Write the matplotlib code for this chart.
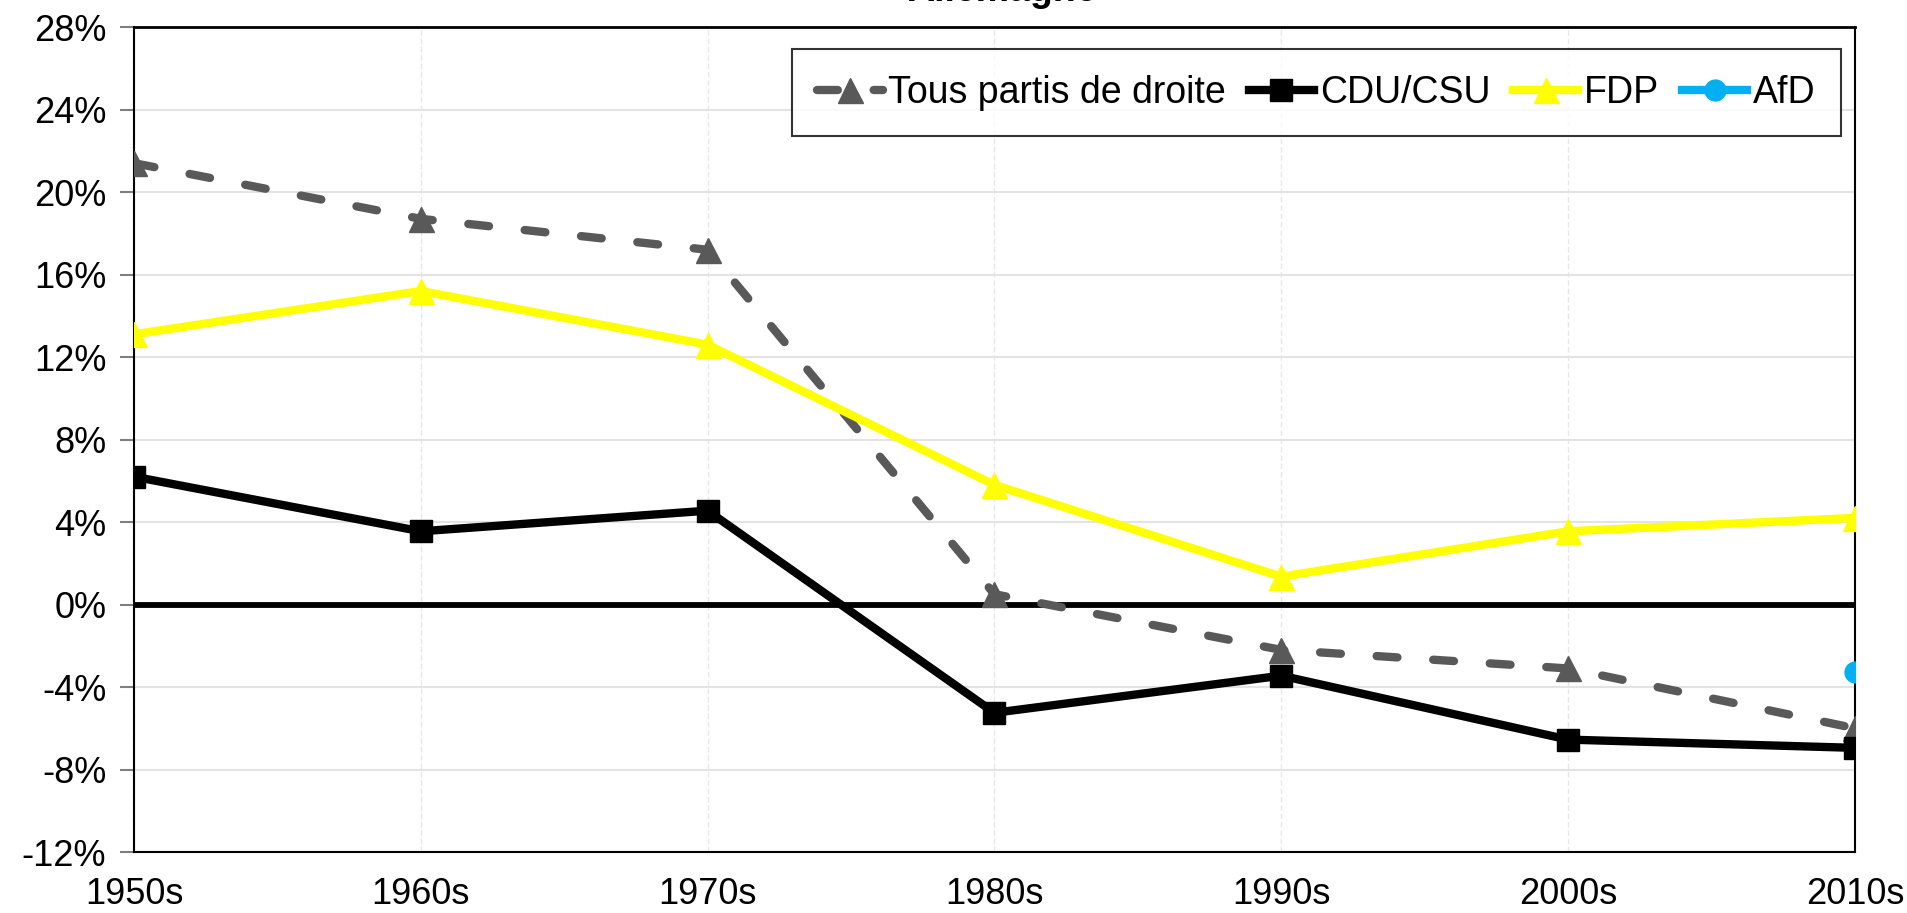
import matplotlib
matplotlib.use("Agg")
import matplotlib.pyplot as plt
from matplotlib.ticker import MultipleLocator, FuncFormatter

plt.rcParams['font.family'] = ['Liberation Sans', 'DejaVu Sans']

decades = ["1950s", "1960s", "1970s", "1980s", "1990s", "2000s", "2010s"]
tous_droite = [21.4, 18.7, 17.2, 0.5, -2.2, -3.1, -6.0]
cdu_csu = [6.2, 3.55, 4.55, -5.25, -3.45, -6.55, -6.95]
fdp = [13.1, 15.2, 12.6, 5.8, 1.35, 3.55, 4.2]
afd_x = ["2010s"]
afd = [-3.25]

fig = plt.figure(figsize=(19.08, 9.13), dpi=100)
ax = fig.add_axes([0.0702, 0.0668, 0.9722 - 0.0702, 0.9704 - 0.0668])

x = list(range(len(decades)))
afd_pos = [decades.index(d) for d in afd_x]

ax.axhline(0, color='black', lw=4.2, zorder=2)
ax.plot(x, tous_droite, color='#595959', lw=6, ls=(0, (2.5, 4.3)), dash_capstyle='round',
        marker='^', ms=18, label='Tous partis de droite', zorder=3)
ax.plot(x, cdu_csu, color='black', lw=6, marker='s', ms=16, label='CDU/CSU', zorder=4)
ax.plot(x, fdp, color='#FFFF00', lw=6, marker='^', ms=18, label='FDP', zorder=3)
ax.plot(afd_pos, afd, color='#00B0F0', lw=6, marker='o', ms=15, label='AfD', zorder=5)

ax.set_xlim(0, len(decades) - 1)
ax.set_ylim(-12, 28)
ax.yaxis.set_major_locator(MultipleLocator(4))
ax.yaxis.set_major_formatter(FuncFormatter(lambda v, p: f"{v:.0f}%"))
ax.set_xticks(x)
ax.set_xticklabels(decades)

ax.grid(axis='y', color='#E3E3E3', lw=1.5, zorder=0)
ax.grid(axis='x', color='#E8E8E8', lw=1, ls=(0, (4, 2)), zorder=0)
ax.tick_params(axis='y', labelsize=26, length=10, width=1.5, color='#7f7f7f', pad=10)
ax.tick_params(axis='x', labelsize=26, length=0, pad=18)
for s in ax.spines.values():
    s.set_color('black')
    s.set_linewidth(1.5)
ax.spines['top'].set_linewidth(2)

leg = ax.legend(loc='upper right', ncol=4, fontsize=27, frameon=True, fancybox=False,
                edgecolor='black', handlelength=1.75, handletextpad=0.15, columnspacing=0.6,
                borderpad=0.68, borderaxespad=0, bbox_to_anchor=(0.992, 0.973))
leg.get_frame().set_linewidth(1.5)

fig.text(0.525, 0.999, "Allemagne", ha='center', va='baseline', fontsize=27, fontweight='bold')

fig.savefig("out.png", dpi=100)
